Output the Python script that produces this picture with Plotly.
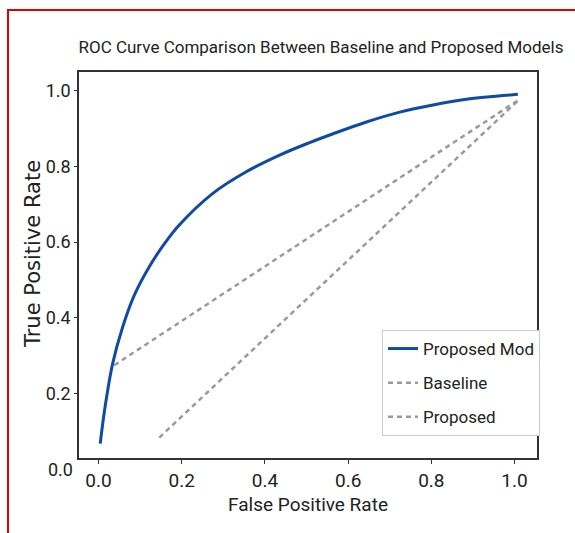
import plotly.graph_objects as go

# ---- data ----
proposed_model_fpr = [0.004, 0.015, 0.034, 0.058, 0.086, 0.122, 0.158, 0.194, 0.274, 0.354,
                      0.434, 0.506, 0.564, 0.644, 0.724, 0.804, 0.884, 1.008]
proposed_model_tpr = [0.068, 0.160, 0.280, 0.376, 0.460, 0.535, 0.595, 0.645, 0.728, 0.785,
                      0.829, 0.862, 0.886, 0.917, 0.943, 0.962, 0.977, 0.990]

baseline_fpr = [0.038, 1.012]
baseline_tpr = [0.275, 0.977]

proposed_fpr = [0.146, 1.012]
proposed_tpr = [0.084, 0.977]

tick_vals = [0.0, 0.2, 0.4, 0.6, 0.8, 1.0]
tick_text = ["0.0", "0.2", "0.4", "0.6", "0.8", "1.0"]

NARROW = "Roboto, Liberation Sans, sans-serif"

fig = go.Figure()
fig.add_trace(go.Scatter(x=proposed_model_fpr, y=proposed_model_tpr, mode="lines",
                         name="Proposed Mod", line=dict(color="#0f4aa3", width=3, shape="spline"),
                         legendgroup="a"))
fig.add_trace(go.Scatter(x=baseline_fpr, y=baseline_tpr, mode="lines", name="Baseline",
                         line=dict(color="#9a9a9a", width=2.5, dash="5px,4px"), legendgroup="b"))
fig.add_trace(go.Scatter(x=proposed_fpr, y=proposed_tpr, mode="lines", name="Proposed",
                         line=dict(color="#9a9a9a", width=2.5, dash="5px,4px"), legendgroup="c"))

L, R, T, B = 79, 537, 72, 458
W, H = 575, 533
pw, ph = R - L, B - T

def px(xp):
    return (xp - L) / pw

def py(yp):
    return (B - yp) / ph

fig.update_layout(
    width=W, height=H,
    margin=dict(l=L, r=W - R, t=T, b=H - B),
    paper_bgcolor="white", plot_bgcolor="white",
    showlegend=True,
    legend=dict(x=px(382), y=py(330), xanchor="left", yanchor="top",
                bgcolor="white", bordercolor="#cccccc", borderwidth=1,
                font=dict(family=NARROW, size=17, color="#222"),
                tracegroupgap=9),
    title=dict(text="ROC Curve Comparison Between Baseline and Proposed Models",
               x=px(321), xanchor="center", xref="paper",
               y=1 - 47 / H, yanchor="middle",
               font=dict(family=NARROW, size=17, color="#222")),
)

fig.update_xaxes(range=[-0.047, 1.054], tickvals=tick_vals, ticktext=tick_text,
                 showgrid=False, zeroline=False, showline=True, mirror=True,
                 linecolor="#333", linewidth=1.5, ticks="outside", ticklen=4,
                 tickcolor="#333", tickfont=dict(family=NARROW, size=19, color="#222"),
                 title=dict(text="False Positive Rate", standoff=7,
                            font=dict(family=NARROW, size=19, color="#222")))
fig.update_yaxes(range=[0.030, 1.049], tickvals=tick_vals, ticktext=tick_text,
                 showgrid=False, zeroline=False, showline=True, mirror=True,
                 linecolor="#333", linewidth=1.5, ticks="outside", ticklen=3,
                 tickcolor="#333", tickfont=dict(family=NARROW, size=18, color="#222"))

# y-axis title placed as in the reference
fig.add_annotation(text="True Positive Rate", xref="paper", yref="paper",
                   x=px(33), y=py(254), xanchor="center", yanchor="middle",
                   textangle=-90, showarrow=False,
                   font=dict(family="DejaVu Sans", size=21, color="#222"))

# stray "0.0" label below the y axis, as in the reference
fig.add_annotation(text="0.0", xref="paper", yref="paper", x=px(75), y=py(469),
                   xanchor="right", yanchor="middle", showarrow=False,
                   font=dict(family=NARROW, size=18, color="#222"))

# red frame around the picture
fig.add_shape(type="rect", xref="paper", yref="paper",
              x0=px(8), x1=px(580), y0=py(545), y1=py(10),
              line=dict(color="#e00000", width=2), fillcolor="rgba(0,0,0,0)", layer="above")

fig.write_html("out.html", config={"displayModeBar": False},
               post_script="document.body.style.margin='0';document.body.style.overflow='hidden';")
